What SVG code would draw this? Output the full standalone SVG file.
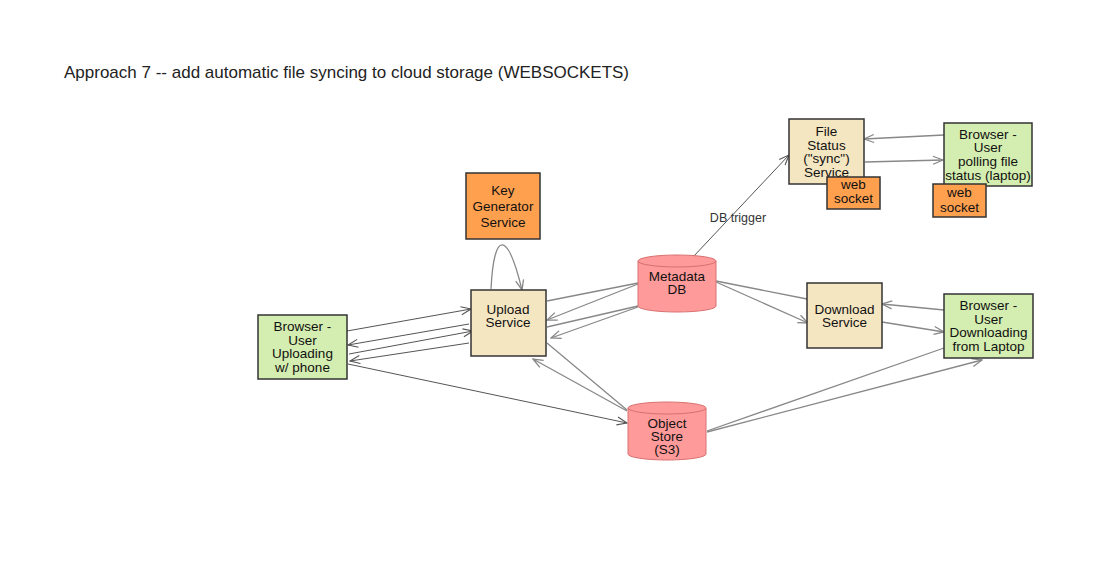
<svg xmlns="http://www.w3.org/2000/svg" width="1114" height="564" viewBox="0 0 1114 564">
<defs>
<style>
text{font-family:"Liberation Sans",Arial,sans-serif;font-size:13.5px;fill:#111;text-anchor:middle}
.title{font-size:17px;text-anchor:start;fill:#222}
.lbl{font-size:12.5px;fill:#333}
.box{stroke:#333;stroke-width:1.5}
.orange{fill:#FFA04F}
.wheat{fill:#F5E6C2}
.green{fill:#D4EDB0}
.cyl{fill:#FF9A9A;stroke:#D97070;stroke-width:1}
.c{fill:none;stroke:#888;stroke-width:1.3}
.d{fill:none;stroke:#555;stroke-width:1}
</style>
<marker id="a" viewBox="0 0 12 10" refX="11" refY="5" markerWidth="12" markerHeight="10" markerUnits="userSpaceOnUse" orient="auto">
<path d="M1,1 L11,5 L1,9" fill="none" stroke="#888" stroke-width="1.3"/>
</marker>
<marker id="ad" viewBox="0 0 12 10" refX="11" refY="5" markerWidth="12" markerHeight="10" markerUnits="userSpaceOnUse" orient="auto">
<path d="M1,1 L11,5 L1,9" fill="none" stroke="#555" stroke-width="1.1"/>
</marker>
</defs>
<rect width="1114" height="564" fill="#fff"/>
<text class="title" x="64" y="78">Approach 7 -- add automatic file syncing to cloud storage (WEBSOCKETS)</text>

<g id="connectors">
<path class="d" d="M347,331 L471,309" marker-end="url(#ad)"/>
<path class="d" d="M469,324 L348,345" marker-end="url(#ad)"/>
<path class="d" d="M349,354 L473,331" marker-end="url(#ad)"/>
<path class="d" d="M469,343 L350,361" marker-end="url(#ad)"/>
<path class="d" d="M348,364 L627,423" marker-end="url(#ad)"/>
<path class="c" d="M547,301 L638,283"/>
<path class="c" d="M638,284 L547,320" marker-end="url(#a)"/>
<path class="c" d="M547,327 L638,306"/>
<path class="c" d="M638,307 L551,338" marker-end="url(#a)"/>
<path class="c" d="M547,343 L627,410"/>
<path class="c" d="M627,411 L533,359" marker-end="url(#a)"/>
<path class="c" d="M716,281 L807,299"/>
<path class="c" d="M716,282 L808,323" marker-end="url(#a)"/>
<path class="c" d="M944,310 L882,304" marker-end="url(#a)"/>
<path class="c" d="M882,322 L944,332" marker-end="url(#a)"/>
<path class="c" d="M707,431 L944,348"/>
<path class="c" d="M707,432 L982,360" marker-end="url(#a)"/>
<path class="d" d="M693,257 L789,155" marker-end="url(#ad)"/>
<path class="c" d="M944,135 L864,139" marker-end="url(#a)"/>
<path class="c" d="M865,162 L943,160" marker-end="url(#a)"/>
<path class="c" d="M491,289 C494,228 508,232 522,290" marker-end="url(#a)"/>
<text class="lbl" x="738" y="222">DB trigger</text>
</g>

<g id="key-generator">
<rect class="box orange" x="466" y="173" width="74" height="66"/>
<text x="503" y="195">Key</text>
<text x="503" y="211">Generator</text>
<text x="503" y="227">Service</text>
</g>

<g id="upload-service">
<rect class="box wheat" x="471" y="290" width="75" height="66"/>
<text x="508" y="314">Upload</text>
<text x="508" y="327">Service</text>
</g>

<g id="browser-uploading">
<rect class="box green" x="258" y="315" width="89" height="64"/>
<text x="302.5" y="331">Browser -</text>
<text x="302.5" y="344.5">User</text>
<text x="302.5" y="358">Uploading</text>
<text x="302.5" y="372">w/ phone</text>
</g>

<g id="metadata-db">
<path class="cyl" d="M638,261 L638,306 A39,6 0 0 0 716,306 L716,261 A39,6 0 0 0 638,261 Z"/>
<path fill="none" stroke="#D97070" d="M638,261 A39,6 0 0 0 716,261"/>
<text x="677" y="281">Metadata</text>
<text x="677" y="294">DB</text>
</g>

<g id="object-store">
<path class="cyl" d="M628,408 L628,454 A39,6 0 0 0 706,454 L706,408 A39,6 0 0 0 628,408 Z"/>
<path fill="none" stroke="#D97070" d="M628,408 A39,6 0 0 0 706,408"/>
<text x="667" y="428">Object</text>
<text x="667" y="441">Store</text>
<text x="667" y="454">(S3)</text>
</g>

<g id="download-service">
<rect class="box wheat" x="807" y="283" width="75" height="65"/>
<text x="844.5" y="314">Download</text>
<text x="844.5" y="327">Service</text>
</g>

<g id="browser-downloading">
<rect class="box green" x="944" y="294" width="89" height="64"/>
<text x="988.5" y="310">Browser -</text>
<text x="988.5" y="323.5">User</text>
<text x="988.5" y="337">Downloading</text>
<text x="988.5" y="351">from Laptop</text>
</g>

<g id="file-status-service">
<rect class="box wheat" x="789" y="119" width="75" height="65"/>
<text x="826.5" y="136">File</text>
<text x="826.5" y="149.5">Status</text>
<text x="826.5" y="163">("sync")</text>
<text x="826.5" y="176.5">Service</text>
</g>

<g id="web-socket-1">
<rect class="box orange" x="827" y="177" width="53" height="32"/>
<text x="853.5" y="189">web</text>
<text x="853.5" y="203">socket</text>
</g>

<g id="browser-polling">
<rect class="box green" x="944" y="123" width="88" height="63"/>
<text x="988" y="139">Browser -</text>
<text x="988" y="152">User</text>
<text x="988" y="166">polling file</text>
<text x="988" y="180">status (laptop)</text>
</g>

<g id="web-socket-2">
<rect class="box orange" x="933" y="184" width="53" height="33"/>
<text x="959.5" y="197">web</text>
<text x="959.5" y="212">socket</text>
</g>
</svg>
